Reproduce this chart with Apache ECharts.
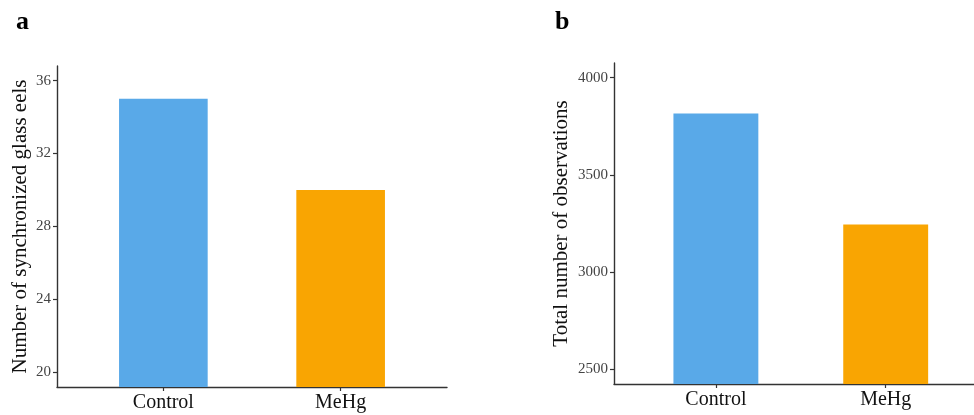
<!DOCTYPE html>
<html>
<head>
<meta charset="utf-8">
<script src="https://cdn.jsdelivr.net/npm/echarts@6/dist/echarts.min.js"></script>
<style>
html,body{margin:0;padding:0;background:#fff;}
#chart{width:974px;height:415px;}
</style>
</head>
<body>
<div id="chart"></div>
<script>
// ---- data ----
const categories = ['Control', 'MeHg'];
const glassEels = [35, 30];
const observations = [3815, 3245];
const barColors = ['#59A9E8', '#F9A502'];
const ticksA = [20, 24, 28, 32, 36];
const ticksB = [2500, 3000, 3500, 4000];
const panelLabels = ['a', 'b'];
const yNameA = 'Number of synchronized glass eels';
const yNameB = 'Total number of observations';

const FONT = '"Liberation Serif", "Times New Roman", serif';
const positions = categories.map((c, i) => i + 1);

function xAxisFor(gi, xmax) {
  return {
    type: 'value', gridIndex: gi, min: 0.4, max: xmax,
    splitLine: {show: false},
    axisLine: {show: true, lineStyle: {color: '#333', width: 1.4}},
    axisTick: {show: true, length: 4, lineStyle: {color: '#333', width: 1.2}, customValues: positions},
    axisLabel: {
      show: true, customValues: positions, margin: 6,
      fontFamily: FONT, fontSize: 20, color: '#111',
      formatter: v => categories[Math.round(v) - 1] || ''
    }
  };
}
function yAxisFor(gi, min, max, ticks, name, gap) {
  return {
    type: 'value', gridIndex: gi, min: min, max: max,
    name: name, nameLocation: 'middle', nameGap: gap, nameRotate: 90,
    nameMoveOverlap: false,
    nameTextStyle: {fontFamily: FONT, fontSize: 21, color: '#111'},
    splitLine: {show: false},
    axisLine: {show: true, lineStyle: {color: '#333', width: 1.4}},
    axisTick: {show: true, length: 4, lineStyle: {color: '#333', width: 1.2}, customValues: ticks},
    axisLabel: {customValues: ticks, margin: 6, fontFamily: FONT, fontSize: 15, color: '#444',
      formatter: v => String(v)}
  };
}
function seriesFor(gi, values) {
  return {
    type: 'bar', xAxisIndex: gi, yAxisIndex: gi,
    barWidth: '50%',
    data: values.map((v, i) => ({value: [positions[i], v], itemStyle: {color: barColors[i]}})),
    silent: true
  };
}

const chart = echarts.init(document.getElementById('chart'), null, {renderer: 'canvas'});
chart.setOption({
  animation: false,
  backgroundColor: '#fff',
  title: [
    {text: panelLabels[0], left: 11, top: 4, textStyle: {fontFamily: FONT, fontWeight: 'bold', fontSize: 26, color: '#000'}},
    {text: panelLabels[1], left: 550, top: 4, textStyle: {fontFamily: FONT, fontWeight: 'bold', fontSize: 26, color: '#000'}}
  ],
  grid: [
    {left: 57, top: 66, width: 390, height: 321, containLabel: false},
    {left: 614, top: 63, width: 360, height: 321, containLabel: false}
  ],
  xAxis: [xAxisFor(0, 2.6), xAxisFor(1, 2.52)],
  yAxis: [
    yAxisFor(0, 19.2, 36.8, ticksA, yNameA, 26),
    yAxisFor(1, 2425, 4075, ticksB, yNameB, 42)
  ],
  series: [seriesFor(0, glassEels), seriesFor(1, observations)]
});
</script>
</body>
</html>
